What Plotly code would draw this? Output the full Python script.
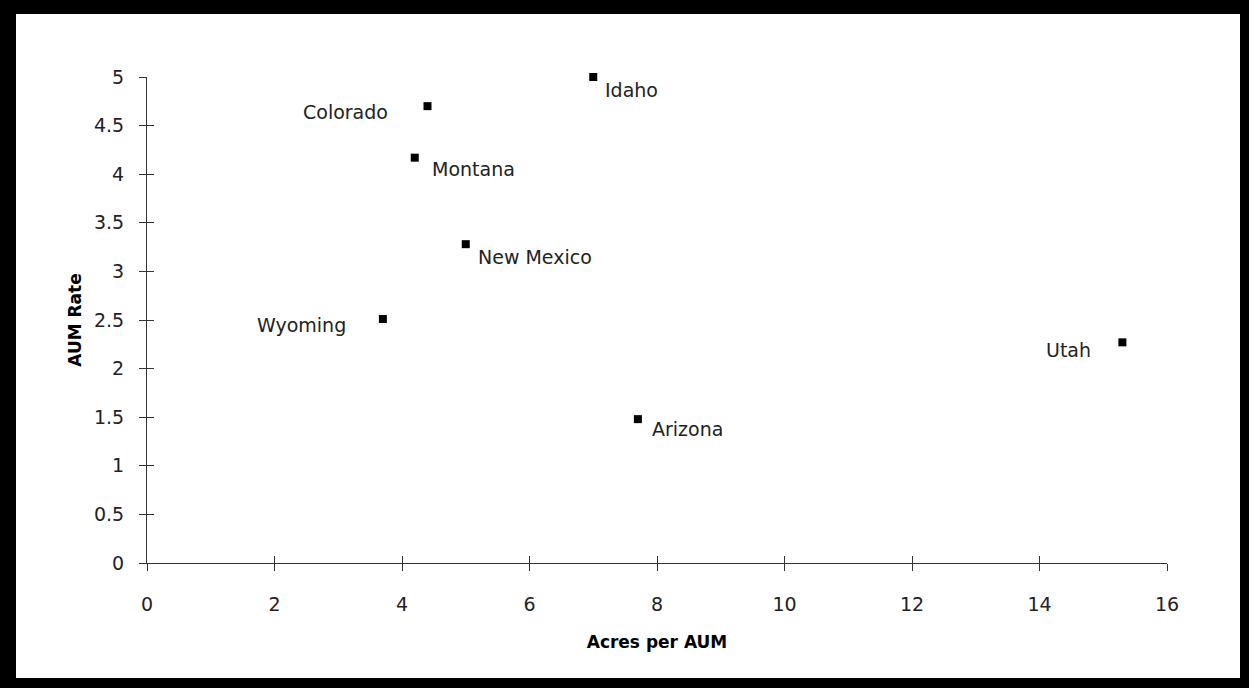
import plotly.graph_objects as go

# ---- data ----
states = ["Idaho", "Colorado", "Montana", "New Mexico", "Wyoming", "Arizona", "Utah"]
acres_per_aum = [7.0, 4.4, 4.2, 5.0, 3.7, 7.7, 15.3]
aum_rate = [5.0, 4.7, 4.17, 3.28, 2.51, 1.48, 2.27]
x_ticks = [0, 2, 4, 6, 8, 10, 12, 14, 16]
y_ticks = [0, 0.5, 1, 1.5, 2, 2.5, 3, 3.5, 4, 4.5, 5]
y_tick_text = ["0", "0.5", "1", "1.5", "2", "2.5", "3", "3.5", "4", "4.5", "5"]

# ---- styling / layout ----
FIG_W, FIG_H = 1249, 688
M_L, M_R, M_T, M_B = 147, 82, 77, 125
PW = FIG_W - M_L - M_R
PH = FIG_H - M_T - M_B
FONT = "DejaVu Sans"
AXIS_COLOR = "#333333"
TEXT_COLOR = "#222222"

# label placement (side, xshift, yshift)
label_style = {
    "Idaho": ("left", 10, -13),
    "Colorado": ("right", -38, -6),
    "Montana": ("left", 15, -11),
    "New Mexico": ("left", 10, -13),
    "Wyoming": ("right", -35, -6),
    "Arizona": ("left", 12, -10),
    "Utah": ("right", -29, -8),
}


def px_to_paper_x(px):
    return (px - M_L) / PW


def py_to_paper_y(py):
    return (FIG_H - M_B - py) / PH


fig = go.Figure()
fig.add_trace(go.Scatter(
    x=acres_per_aum, y=aum_rate, mode="markers",
    marker=dict(symbol="square", size=8, color="black"),
    hoverinfo="text", text=states, showlegend=False, cliponaxis=False,
))
# invisible trace on overlay axes (for inside tick marks -> crossing ticks)
fig.add_trace(go.Scatter(
    x=[x_ticks[0]], y=[y_ticks[0]], xaxis="x2", yaxis="y2", mode="markers",
    marker=dict(opacity=0), hoverinfo="skip", showlegend=False,
))

for name, xv, yv in zip(states, acres_per_aum, aum_rate):
    anchor, xs, ys = label_style[name]
    fig.add_annotation(
        x=xv, y=yv, text=name, showarrow=False,
        xanchor=anchor, yanchor="middle", xshift=xs, yshift=ys,
        font=dict(family=FONT, size=19, color=TEXT_COLOR),
    )

xr = [x_ticks[0], x_ticks[-1]]
yr = [y_ticks[0], y_ticks[-1]]

fig.update_layout(
    width=FIG_W, height=FIG_H,
    margin=dict(l=M_L, r=M_R, t=M_T, b=M_B, pad=0),
    paper_bgcolor="white", plot_bgcolor="white",
    font=dict(family=FONT, size=19, color=TEXT_COLOR),
    xaxis=dict(
        range=xr, tickvals=x_ticks, ticks="outside", ticklen=7, tickwidth=1,
        tickcolor=AXIS_COLOR, showline=True, linecolor=AXIS_COLOR, linewidth=1,
        showgrid=False, zeroline=False, ticklabelstandoff=17,
        tickfont=dict(family=FONT, size=19, color=TEXT_COLOR),
        title=dict(text="<b>Acres per AUM</b>", standoff=22,
                   font=dict(family=FONT, size=17, color="black")),
    ),
    yaxis=dict(
        range=yr, tickvals=y_ticks, ticktext=y_tick_text, ticks="outside", ticklen=7,
        tickwidth=1, tickcolor=AXIS_COLOR, showline=True, linecolor=AXIS_COLOR,
        linewidth=1, showgrid=False, zeroline=False, ticklabelstandoff=11,
        tickfont=dict(family=FONT, size=19, color=TEXT_COLOR),
        title=dict(text="<b>AUM Rate</b>", standoff=8,
                   font=dict(family=FONT, size=17, color="black")),
    ),
    xaxis2=dict(
        range=xr, tickvals=x_ticks, ticks="inside", ticklen=7, tickwidth=1,
        tickcolor=AXIS_COLOR, showticklabels=False, showline=False,
        showgrid=False, zeroline=False, overlaying="x", anchor="y2",
    ),
    yaxis2=dict(
        range=yr, tickvals=y_ticks, ticks="inside", ticklen=7, tickwidth=1,
        tickcolor=AXIS_COLOR, showticklabels=False, showline=False,
        showgrid=False, zeroline=False, overlaying="y", anchor="x2",
    ),
)

# black frame around the picture
frame = [
    (0, 0, 16, FIG_H),
    (0, 0, FIG_W, 14),
    (1240, 0, FIG_W, FIG_H),
    (0, 678, FIG_W, FIG_H),
]
for x0, y0, x1, y1 in frame:
    fig.add_shape(
        type="rect", xref="paper", yref="paper",
        x0=px_to_paper_x(x0), x1=px_to_paper_x(x1),
        y0=py_to_paper_y(y0), y1=py_to_paper_y(y1),
        fillcolor="black", line=dict(width=0), layer="above",
    )

fig.write_html(
    "out.html",
    config={"displayModeBar": False},
    post_script="document.body.style.margin='0';document.body.style.overflow='hidden';",
)
